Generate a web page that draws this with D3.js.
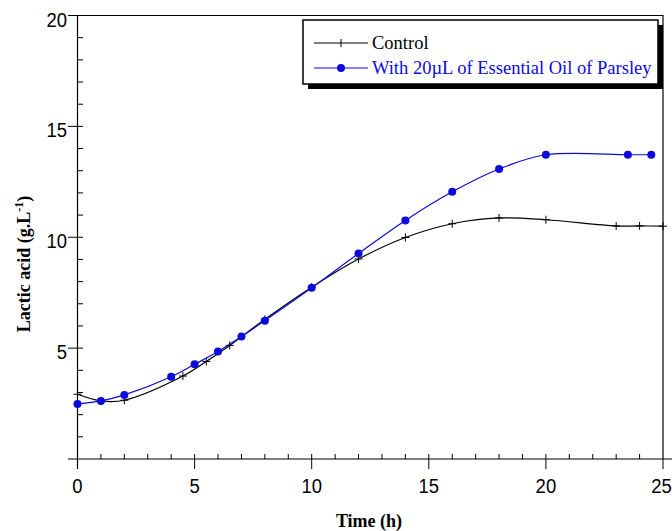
<!DOCTYPE html>
<html>
<head>
<meta charset="utf-8">
<script src="https://cdn.jsdelivr.net/npm/d3@7"></script>
<style>
  body { margin: 0; background: #fff; }
  svg { display: block; }
  .tick-lbl { font-family: "Liberation Sans", Arial, sans-serif; font-size: 21px; }
  .title { font-family: "Liberation Serif", "Times New Roman", serif; font-weight: bold; font-size: 18px; }
  .legend { font-family: "Liberation Serif", "Times New Roman", serif; font-size: 18.5px; }
</style>
</head>
<body>
<svg width="672" height="531"></svg>
<script>
// control run
var control_time = [0, 1, 2, 4.5, 5.5, 6.5, 8, 10, 12, 14, 16, 18, 20, 23, 24, 25];
var control_acid = [2.92, 2.62, 2.65, 3.74, 4.4, 5.12, 6.3, 7.75, 9.02, 9.99, 10.61, 10.87, 10.79, 10.51, 10.51, 10.5];

// with parsley oil
var parsley_time = [0, 1, 2, 4, 5, 6, 7, 8, 10, 12, 14, 16, 18, 20, 23.5, 24.5];
var parsley_acid = [2.48, 2.62, 2.89, 3.71, 4.27, 4.85, 5.52, 6.24, 7.72, 9.27, 10.76, 12.05, 13.08, 13.72, 13.72, 13.72];

var x_ticks = [0, 5, 10, 15, 20, 25];
var y_ticks = [5, 10, 15, 20];
var series_names = ["Control", "With 20\u00b5L of Essential Oil of Parsley"];

var svg = d3.select("svg");

var x = d3.scaleLinear().domain([0, 25]).range([77.5, 663]);
var y = d3.scaleLinear().domain([0, 20]).range([459, 15.5]);

var blue = "#0a0adc";

// frame: top and right
svg.append("line").attr("x1", 77).attr("x2", 663).attr("y1", 15.5).attr("y2", 15.5)
    .attr("stroke", "#000").attr("stroke-width", 1);
svg.append("line").attr("x1", 663).attr("x2", 663).attr("y1", 15).attr("y2", 459)
    .attr("stroke", "#000").attr("stroke-width", 1.2);

// axis lines
svg.append("line").attr("x1", 68).attr("x2", 672).attr("y1", 459).attr("y2", 459)
    .attr("stroke", "#000").attr("stroke-width", 1.2);
svg.append("line").attr("x1", 77.5).attr("x2", 77.5).attr("y1", 15).attr("y2", 469)
    .attr("stroke", "#000").attr("stroke-width", 1.2);

// minor ticks, pointing inward
var g = svg.append("g").attr("stroke", "#000").attr("stroke-width", 1);
g.selectAll(".xm").data(d3.range(1, 25)).enter().append("line")
    .attr("x1", d => x(d)).attr("x2", d => x(d))
    .attr("y1", 459).attr("y2", 454);
g.selectAll(".ym").data(d3.range(1, 20)).enter().append("line")
    .attr("x1", 77.5).attr("x2", 83)
    .attr("y1", d => y(d)).attr("y2", d => y(d));

// major ticks, outward
g.selectAll(".xM").data(x_ticks).enter().append("line")
    .attr("x1", d => x(d)).attr("x2", d => x(d))
    .attr("y1", 459).attr("y2", 469);
g.selectAll(".yM").data(y_ticks).enter().append("line")
    .attr("x1", 68).attr("x2", 77.5)
    .attr("y1", d => y(d)).attr("y2", d => y(d));

// tick labels (narrow face)
svg.selectAll(".xl").data(x_ticks).enter().append("text")
    .attr("class", "tick-lbl")
    .attr("transform", d => "translate(" + Math.min(x(d), 661.5) + ",493) scale(0.88,1)")
    .attr("text-anchor", "middle")
    .text(d => d);
svg.selectAll(".yl").data(y_ticks).enter().append("text")
    .attr("class", "tick-lbl")
    .attr("transform", d => "translate(67," + (y(d) + 11) + ") scale(0.88,1)")
    .attr("text-anchor", "end")
    .text(d => d);

// axis titles
svg.append("text").attr("class", "title")
    .attr("x", 369).attr("y", 527).attr("text-anchor", "middle")
    .text("Time (h)");
var yt = svg.append("text").attr("class", "title")
    .attr("transform", "translate(30,264) rotate(-90)")
    .attr("text-anchor", "middle");
yt.append("tspan").text("Lactic acid (g.L");
yt.append("tspan").attr("dy", -7).attr("font-size", 12).text("-1");
yt.append("tspan").attr("dy", 7).text(")");

// lines
var line = d3.line()
    .x(d => x(d[0])).y(d => y(d[1]))
    .curve(d3.curveCatmullRom.alpha(0.5));

var control = d3.zip(control_time, control_acid);
var parsley = d3.zip(parsley_time, parsley_acid);

svg.append("path").datum(control)
    .attr("d", line).attr("fill", "none")
    .attr("stroke", "#000").attr("stroke-width", 1.2);

svg.append("g").selectAll("path").data(control).enter().append("path")
    .attr("d", d => "M" + (x(d[0]) - 4) + "," + y(d[1]) + "h8M" + x(d[0]) + "," + (y(d[1]) - 4) + "v8")
    .attr("stroke", "#000").attr("stroke-width", 1);

svg.append("path").datum(parsley)
    .attr("d", line).attr("fill", "none")
    .attr("stroke", blue).attr("stroke-width", 1.2);

svg.append("g").selectAll("circle").data(parsley).enter().append("circle")
    .attr("cx", d => x(d[0])).attr("cy", d => y(d[1]))
    .attr("r", 4).attr("fill", blue);

// legend
var lg = svg.append("g");
lg.append("rect").attr("x", 308).attr("y", 25).attr("width", 355).attr("height", 64).attr("fill", "#000");
lg.append("rect").attr("x", 303).attr("y", 20).attr("width", 355).attr("height", 64)
    .attr("fill", "#fff").attr("stroke", "#000").attr("stroke-width", 1.5);

var rows = [{ name: series_names[0], color: "#000", y: 43 }, { name: series_names[1], color: blue, y: 68 }];
rows.forEach((r, i) => {
    lg.append("line").attr("x1", 314).attr("x2", 368).attr("y1", r.y).attr("y2", r.y)
        .attr("stroke", r.color).attr("stroke-width", 1.2);
    if (i === 0) {
        lg.append("line").attr("x1", 341).attr("x2", 341).attr("y1", r.y - 4).attr("y2", r.y + 4)
            .attr("stroke", "#000");
    } else {
        lg.append("circle").attr("cx", 341).attr("cy", r.y).attr("r", 4).attr("fill", blue);
    }
    lg.append("text").attr("class", "legend")
        .attr("x", 372).attr("y", r.y + 6)
        .attr("fill", r.color)
        .text(r.name);
});
</script>
</body>
</html>
